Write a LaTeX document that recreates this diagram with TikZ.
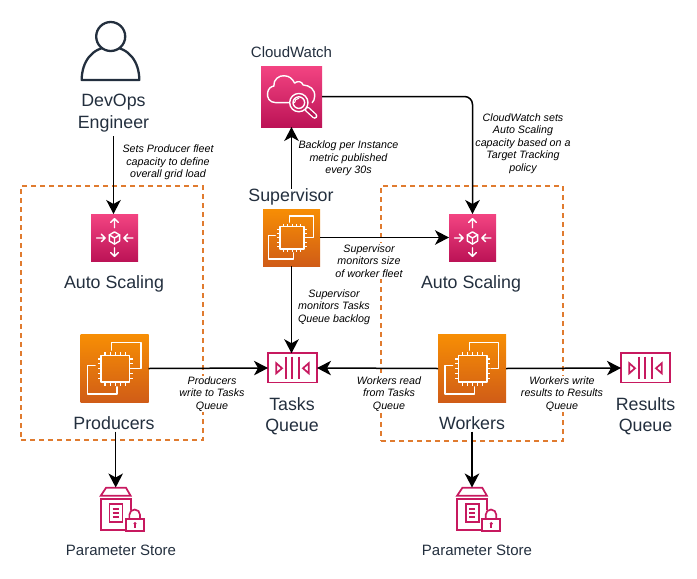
\documentclass[tikz,border=0pt]{standalone}
\usepackage{fontspec}
\setmainfont{Liberation Sans}
\usetikzlibrary{arrows.meta}
\definecolor{ink}{HTML}{232F3E}
\definecolor{pinktop}{HTML}{F34482}
\definecolor{pinkbot}{HTML}{BC1356}
\definecolor{orgtop}{HTML}{F78E04}
\definecolor{orgbot}{HTML}{D05C17}
\definecolor{pinkline}{HTML}{C7195F}
\definecolor{dashorange}{HTML}{E07B2F}
\tikzset{
  x=1pt,y=-1pt,
  conn/.style={draw=black,line width=1.5pt,-{Stealth[length=14pt,width=14.5pt,inset=4pt]}},
  groupbox/.style={draw=dashorange,line width=1.2pt,dash pattern=on 5pt off 4pt,inner sep=0pt,outer sep=0pt},
  pinkicon/.style={top color=pinktop,bottom color=pinkbot,inner sep=0pt,outer sep=0pt},
  orangeicon/.style={top color=orgtop,bottom color=orgbot,inner sep=0pt,outer sep=0pt},
  biglabel/.style={text=ink,align=center,inner sep=0pt,font=\fontsize{17.8}{21.5}\selectfont},
  midlabel/.style={text=ink,align=center,inner sep=0pt,font=\fontsize{15}{18}\selectfont},
  note/.style={text=black,align=center,inner sep=1pt,fill=white,font=\fontsize{10.7}{12.6}\selectfont\itshape},
  glyph/.style={draw=white,line width=1.4pt,line join=round,line cap=round},
  pin/.style={draw=white,line width=1.1pt},
  pline/.style={draw=pinkline,line width=1.7pt,line join=miter},
  ec2glyph/.pic={
    \draw[glyph] (.46,.23) -- (.46,.12) -- (.887,.12) -- (.887,.5) -- (.78,.5);
    \draw[glyph] (.215,.46) -- (.10,.46) -- (.10,.877) -- (.534,.877) -- (.534,.77);
    \draw[glyph] (.30,.31) rectangle (.72,.70);
    \foreach \p in {.36,.435,.51,.585,.66}{
      \draw[pin] (\p,.31) -- (\p,.26);
      \draw[pin] (\p,.70) -- (\p,.75);
    }
    \foreach \p in {.36,.43,.505,.58,.65}{
      \draw[pin] (.30,\p) -- (.25,\p);
      \draw[pin] (.72,\p) -- (.77,\p);
    }
  },
  scaleglyph/.pic={
    \draw[glyph] (.5,.51) -- (.5,.64) (.5,.51) -- (.39,.445) (.5,.51) -- (.61,.445);
    \draw[glyph] (.5,.38) -- (.61,.445) -- (.61,.575) -- (.5,.64) -- (.39,.575) -- (.39,.445) -- cycle;
    \draw[glyph] (.5,.29) -- (.5,.10) (.42,.18) -- (.5,.10) -- (.58,.18);
    \draw[glyph] (.5,.72) -- (.5,.90) (.42,.82) -- (.5,.90) -- (.58,.82);
    \draw[glyph] (.12,.51) -- (.30,.51) (.22,.43) -- (.30,.51) -- (.22,.59);
    \draw[glyph] (.89,.51) -- (.70,.51) (.78,.43) -- (.70,.51) -- (.78,.59);
  },
  watchglyph/.pic={
    \draw[glyph] (.45,.6) -- (.24,.6) .. controls (.14,.6) and (.09,.52) .. (.11,.43)
      .. controls (.12,.37) and (.17,.33) .. (.21,.33)
      .. controls (.2,.22) and (.3,.15) .. (.38,.16)
      .. controls (.46,.16) and (.52,.21) .. (.55,.28)
      .. controls (.6,.24) and (.67,.25) .. (.69,.31)
      .. controls (.8,.32) and (.89,.38) .. (.88,.5)
      .. controls (.88,.54) and (.86,.58) .. (.84,.6);
    \draw[line width=5.5pt,white,line cap=round] (.76,.71) -- (.88,.82);
    \draw[line width=2.8pt,pinkbot,line cap=round] (.76,.71) -- (.88,.82);
    \fill[pinktop!35!pinkbot] (.62,.6) circle (.15);
    \draw[glyph] (.62,.6) circle (.15);
    \draw[glyph] (.62,.6) circle (.095);
    \draw[glyph,line width=1pt] (.55,.6) arc[start angle=180,end angle=270,radius=.07];
  },
  queueglyph/.pic={
    \draw[pline] (0,0) rectangle (147,88);
    \draw[pline] (25,30) -- (42,45) -- (25,60) -- cycle;
    \draw[pline] (122,30) -- (105,45) -- (122,60) -- cycle;
    \draw[pline] (55,10) -- (55,78) (73,10) -- (73,78) (92,10) -- (92,78);
  },
  storeglyph/.pic={
    \draw[pline] (0,25) -- (16,1) -- (76,1) -- (90,25) -- cycle;
    \draw[pline] (90,66) -- (90,35) -- (0,35) -- (0,128) -- (73,128);
    \draw[pline] (26,50) rectangle (65,103);
    \draw[pline] (36,64) -- (55,64) (36,76) -- (55,76) (36,88) -- (55,88);
    \draw[pline] (76,95) rectangle (130,131);
    \draw[pline] (86,95) -- (86,82) arc[start angle=180,end angle=360,radius=16] -- (118,95);
    \fill[pinkline] (103,108) circle (5);
    \draw[pline] (103,108) -- (103,122);
  },
}
\begin{document}
\begin{tikzpicture}
\useasboundingbox (0,0) rectangle (697,579);

% dashed groups
\node[groupbox,minimum width=182pt,minimum height=254pt] (groupL) at (112,313) {};
\node[groupbox,minimum width=182pt,minimum height=255pt] (groupR) at (472,313.5) {};

% person
\draw[ink,line width=2.3pt,line join=round] (81.7,80) .. controls (81.7,62) and (92,47) .. (110.5,47)
  .. controls (129,47) and (139.3,62) .. (139.3,80) -- cycle;
\node[draw=ink,fill=white,line width=2.3pt,circle,minimum size=29pt,inner sep=0pt] (head) at (110.7,36.5) {};

% icons
\node[pinkicon,minimum size=47pt] (asL) at (114.5,237.5) {};
\pic[x=47pt,y=-47pt] at (asL.north west) {scaleglyph};
\node[pinkicon,minimum size=47pt] (asR) at (472.5,237.5) {};
\pic[x=47pt,y=-47pt] at (asR.north west) {scaleglyph};
\node[pinkicon,minimum size=61pt] (cw) at (291.5,96.5) {};
\pic[x=61pt,y=-61pt] at (cw.north west) {watchglyph};
\node[orangeicon,minimum size=57pt] (sup) at (291.5,237.5) {};
\pic[x=57pt,y=-57pt] at (sup.north west) {ec2glyph};
\node[orangeicon,minimum size=68pt] (prod) at (114.5,368.5) {};
\pic[x=68pt,y=-68pt] at (prod.north west) {ec2glyph};
\node[orangeicon,minimum size=68pt] (work) at (472,368.5) {};
\pic[x=68pt,y=-68pt] at (work.north west) {ec2glyph};

\node[minimum width=49pt,minimum height=29.5pt,inner sep=0pt,outer sep=0pt] (tasks) at (292.5,368) {};
\pic[x=.3333pt,y=-.3333pt] at (tasks.north west) {queueglyph};
\node[minimum width=49pt,minimum height=29.5pt,inner sep=0pt,outer sep=0pt] (results) at (645.5,368) {};
\pic[x=.3333pt,y=-.3333pt] at (results.north west) {queueglyph};

\node[minimum width=30pt,minimum height=44pt,inner sep=0pt,outer sep=0pt] (storeL) at (115.7,509.5) {};
\pic[x=.3333pt,y=-.3333pt] at (storeL.north west) {storeglyph};
\node[minimum width=30pt,minimum height=44pt,inner sep=0pt,outer sep=0pt] (storeR) at (472,509.5) {};
\pic[x=.3333pt,y=-.3333pt] at (storeR.north west) {storeglyph};

% labels
\node[biglabel] (devops) at (113.5,113) {DevOps\\Engineer};
\node[midlabel] (cwlabel) at (291.5,52) {CloudWatch};
\node[biglabel] (suplabel) at (291,197) {Supervisor};
\node[biglabel] (asLlabel) at (114,284) {Auto Scaling};
\node[biglabel] (asRlabel) at (471,284) {Auto Scaling};
\node[biglabel] (prodlabel) at (114,423) {Producers};
\node[biglabel] (worklabel) at (472,423) {Workers};
\node[biglabel] (taskslabel) at (292,416) {Tasks\\Queue};
\node[biglabel] (resultslabel) at (645.5,416) {Results\\Queue};
\node[midlabel] (storeLlabel) at (121,550) {Parameter Store};
\node[midlabel] (storeRlabel) at (477,550) {Parameter Store};

% notes
\node[note] (n1) at (168,162.5) {Sets Producer fleet\\capacity to define\\overall grid load};
\node[note] (n2) at (348.5,158.5) {Backlog per Instance\\metric published\\every 30s};
\node[note] (n3) at (523,143.5) {CloudWatch sets\\Auto Scaling\\capacity based on a\\Target Tracking\\policy};
\node[note] (n4) at (369,261) {Supervisor\\monitors size\\of worker fleet};
\node[note] (n5) at (334,307) {Supervisor\\monitors Tasks\\Queue backlog};
\node[note] (n6) at (212,394) {Producers\\write to Tasks\\Queue};
\node[note] (n7) at (389,394) {Workers read\\from Tasks\\Queue};
\node[note] (n8) at (562,394) {Workers write\\results to Results\\Queue};

% connectors
\draw[conn,shorten <=4pt] (devops.south) -- (asL.north -| devops.south);
\draw[conn] (suplabel.north -| cw.south) -- (cw.south);
\draw[conn,rounded corners=8pt] (cw.east) -| (asR.north);
\draw[conn] (sup.east) -- (asR.west);
\draw[conn] (sup.south) -- (tasks.north -| sup.south);
\draw[conn] (prod.east) -- (tasks.west);
\draw[conn] (work.west) -- (tasks.east);
\draw[conn] (work.east) -- (results.west);
\draw[conn,shorten <=2pt] (prodlabel.south -| storeL.north) -- (storeL.north);
\draw[conn,shorten <=2pt] (worklabel.south -| storeR.north) -- (storeR.north);
\end{tikzpicture}
\end{document}
